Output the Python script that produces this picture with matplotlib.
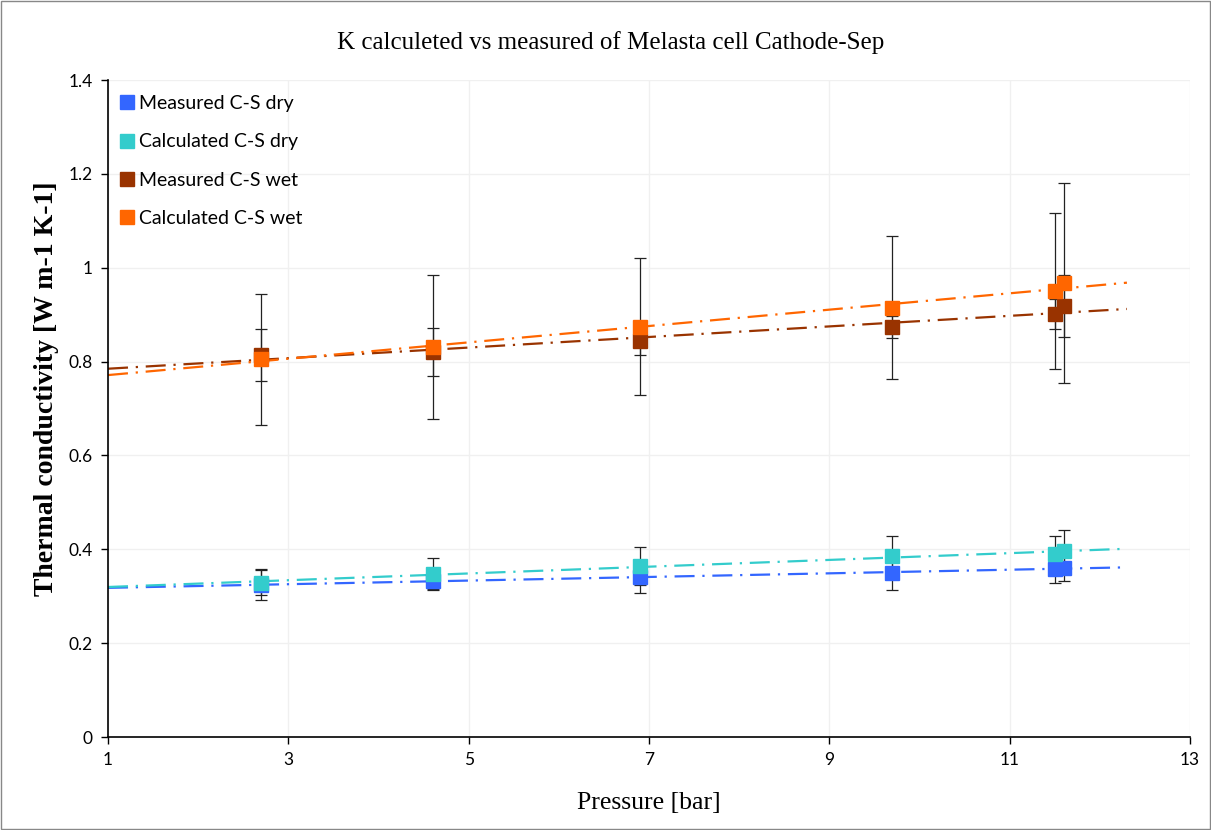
import matplotlib.pyplot as plt
import numpy as np
from matplotlib.patches import Rectangle

# pressure [bar] for each point
pressure = [2.7, 4.6, 6.9, 9.7, 11.5, 11.6]

# thermal conductivity values
meas_dry = [0.324, 0.333, 0.341, 0.349, 0.359, 0.360]
meas_dry_err = [0.033, 0.018, 0.034, 0.035, 0.031, 0.028]
calc_dry = [0.329, 0.347, 0.365, 0.385, 0.391, 0.397]
calc_dry_err = [0.027, 0.034, 0.040, 0.044, 0.038, 0.045]
meas_wet = [0.814, 0.820, 0.844, 0.874, 0.901, 0.918]
meas_wet_err = [0.055, 0.051, 0.030, 0.024, 0.032, 0.066]
calc_wet = [0.805, 0.831, 0.874, 0.915, 0.950, 0.967]
calc_wet_err = [0.140, 0.154, 0.146, 0.153, 0.166, 0.213]

labels = ["Measured C-S dry", "Calculated C-S dry", "Measured C-S wet", "Calculated C-S wet"]
colors = ["#3366FF", "#33CCCC", "#993300", "#FF6600"]

x_ticks = [1, 3, 5, 7, 9, 11, 13]
y_ticks = [0, 0.2, 0.4, 0.6, 0.8, 1, 1.2, 1.4]
y_tick_labels = ["0", "0.2", "0.4", "0.6", "0.8", "1", "1.2", "1.4"]

fig = plt.figure(figsize=(12.11, 8.30), dpi=100)
ax = fig.add_axes([0.0892, 0.112, 0.8935, 0.7916])

series = [(meas_dry, meas_dry_err), (calc_dry, calc_dry_err),
          (meas_wet, meas_wet_err), (calc_wet, calc_wet_err)]

# trendlines (linear fit, extended like excel does)
x_fit = np.array([1.0, 12.3])
for (vals, err), c in zip(series, colors):
    k, b = np.polyfit(pressure, vals, 1)
    ax.plot(x_fit, k * x_fit + b, color=c, lw=1.6,
            linestyle=(0, (9, 3.5, 1, 3.5)), zorder=2)

# error bars
for (vals, err), c in zip(series, colors):
    ax.errorbar(pressure, vals, yerr=err, fmt="none", ecolor="#222222",
                elinewidth=0.9, capsize=4.5, capthick=0.9, zorder=3)

# markers
for (vals, err), c, lab in zip(series, colors, labels):
    ax.plot(pressure, vals, linestyle="none", marker="s", markersize=9.5,
            color=c, markeredgecolor=c, label=lab, zorder=4)

ax.set_xlim(1, 13)
ax.set_ylim(0, 1.4)
ax.set_xticks(x_ticks)
ax.set_yticks(y_ticks)
ax.set_yticklabels(y_tick_labels)
ax.tick_params(labelsize=12.5, direction="out", length=5, width=1, pad=6)
for lab in ax.get_xticklabels() + ax.get_yticklabels():
    lab.set_family("Lato")

ax.grid(True, color="#f0f0f0", lw=1)
ax.set_axisbelow(True)
ax.spines["top"].set_visible(False)
ax.spines["right"].set_visible(False)
ax.spines["left"].set_linewidth(1.2)
ax.spines["bottom"].set_linewidth(1.2)

ax.set_xlabel("Pressure [bar]", family="Liberation Serif", fontsize=18.5, labelpad=17)
ax.set_ylabel("Thermal conductivity [W m-1 K-1]", family="Liberation Serif",
              fontsize=20, fontweight="bold")
ax.yaxis.set_label_coords(-0.045, 0.53)
fig.text(0.504, 0.949, "K calculeted vs measured of Melasta cell Cathode-Sep",
         family="Liberation Serif", fontsize=18, ha="center", va="center")

leg = ax.legend(loc="upper left", bbox_to_anchor=(-0.006, 0.998), frameon=False,
                prop={"family": "Lato", "size": 14}, handletextpad=0.05,
                labelspacing=1.1, handlelength=1.2, borderaxespad=0.3)

fig.patches.append(Rectangle((0.001, 0.001), 0.998, 0.998, transform=fig.transFigure,
                             fill=False, edgecolor="#888888", lw=1))

fig.savefig("out.png", dpi=100)
